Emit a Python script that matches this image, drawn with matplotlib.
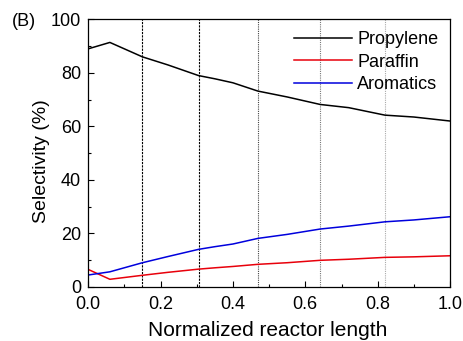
import matplotlib
matplotlib.use("Agg")
import matplotlib.pyplot as plt
from matplotlib.ticker import MultipleLocator

plt.rcParams['font.family'] = ['Liberation Sans', 'DejaVu Sans']

x = [0.0, 0.06, 0.15, 0.22, 0.305, 0.35, 0.4, 0.469, 0.55, 0.641, 0.72, 0.82, 0.9, 1.0]
propylene = [89.0, 91.4, 86.0, 83.0, 79.0, 77.8, 76.3, 73.2, 71.0, 68.2, 67.0, 64.2, 63.5, 62.0]
paraffin = [6.5, 2.8, 4.3, 5.4, 6.6, 7.1, 7.6, 8.4, 9.0, 9.9, 10.3, 11.0, 11.2, 11.6]
aromatics = [4.4, 5.6, 9.0, 11.3, 14.0, 15.0, 16.0, 18.1, 19.6, 21.6, 22.7, 24.3, 25.0, 26.2]
vlines = [0.15, 0.305, 0.469, 0.641, 0.82]
vline_colors = ['#000000', '#000000', '#444444', '#777777', '#aaaaaa']
vline_styles = [(0, (2, 1)), (0, (2, 1)), (0, (1, 1)), (0, (1, 1)), (0, (1, 1))]

fig = plt.figure(figsize=(4.64, 3.41), dpi=100)
ax = fig.add_axes([0.19, 0.159, 0.780, 0.784])

for xv, c, ls in zip(vlines, vline_colors, vline_styles):
    ax.axvline(xv, color=c, linestyle=ls, linewidth=0.8)

ax.plot(x, propylene, color='black', linewidth=1.1, label='Propylene')
ax.plot(x, paraffin, color='#e8000b', linewidth=1.1, label='Paraffin')
ax.plot(x, aromatics, color='#0000dd', linewidth=1.1, label='Aromatics')

ax.set_xlim(0, 1.0)
ax.set_ylim(0, 100)
ax.xaxis.set_major_locator(MultipleLocator(0.2))
ax.xaxis.set_minor_locator(MultipleLocator(0.1))
ax.yaxis.set_major_locator(MultipleLocator(20))
ax.yaxis.set_minor_locator(MultipleLocator(10))
ax.tick_params(which='both', direction='in', top=False, right=False, labelsize=13)
ax.tick_params(axis='x', which='major', pad=6.5)
ax.tick_params(axis='y', which='major', pad=5)
ax.tick_params(which='major', length=4, width=0.8)
ax.tick_params(which='minor', length=2.5, width=0.8)
ax.xaxis.set_major_formatter(matplotlib.ticker.FormatStrFormatter('%.1f'))
for s in ax.spines.values():
    s.set_linewidth(0.9)

ax.set_xlabel('Normalized reactor length', fontsize=15)
ax.set_ylabel('Selectivity (%)', fontsize=14)
ax.xaxis.set_label_coords(0.497, -0.128)
ax.yaxis.set_label_coords(-0.105, 0.47)

leg = ax.legend(loc='upper right', frameon=False, fontsize=13, handlelength=3.2,
                handletextpad=0.3, labelspacing=0.3, borderaxespad=0.25)

fig.text(0.026, 0.937, '(B)', fontsize=13, va='center', ha='left')

fig.savefig('out.png', dpi=100)
